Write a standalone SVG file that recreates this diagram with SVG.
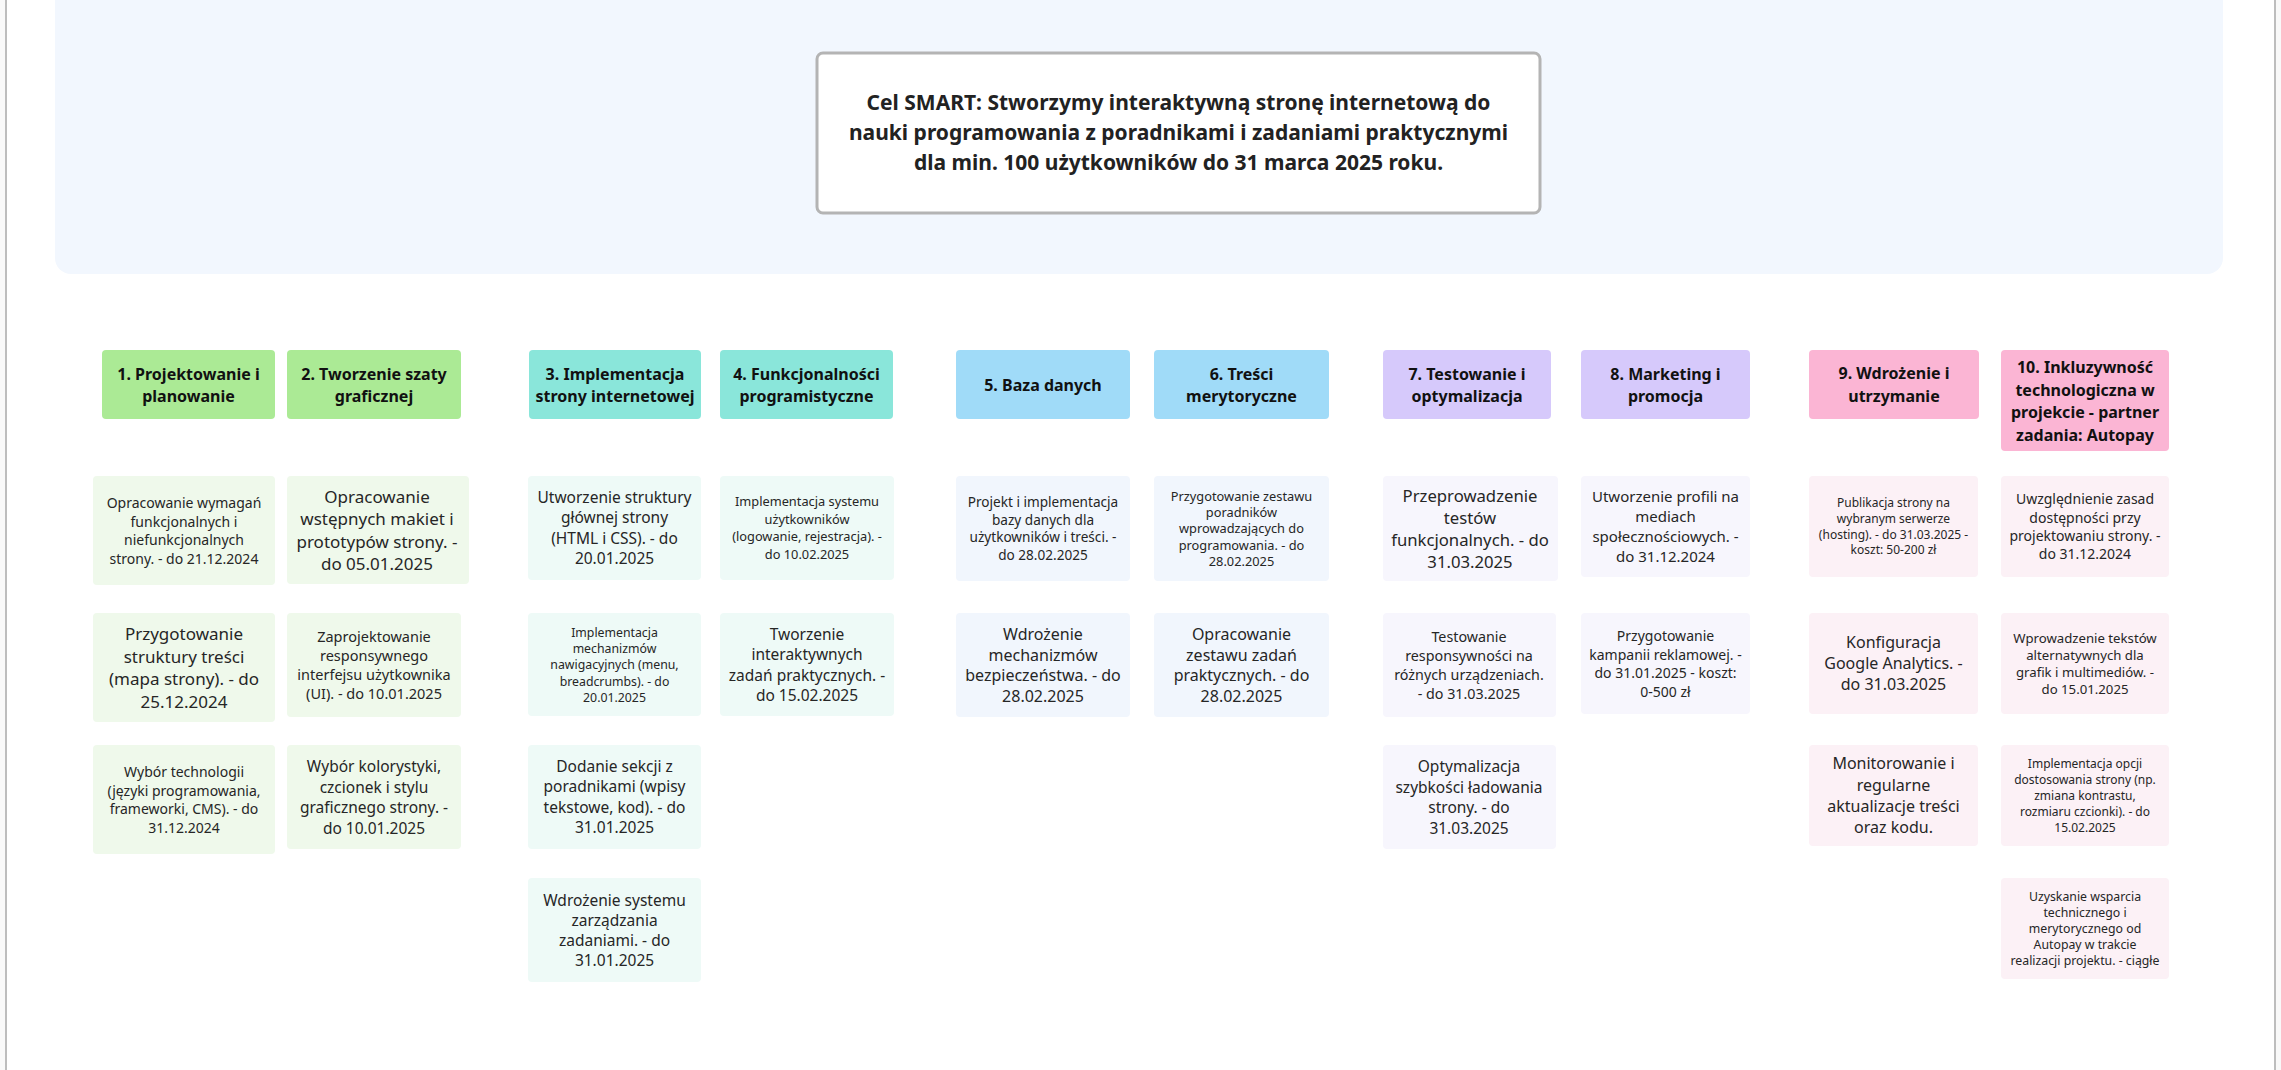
<svg xmlns="http://www.w3.org/2000/svg" width="2281" height="1070" viewBox="0 0 2281 1070">
<style>
text{font-family:"Noto Sans","Liberation Sans",sans-serif;text-anchor:middle;fill:#262626}
.h{font-weight:700;font-size:16px;fill:#111}
.goal{font-weight:700;font-size:21px;fill:#222}
.hg{fill:#abea95}.cg{fill:#eff9eb}
.ht{fill:#8ae6da}.ct{fill:#eefaf7}
.hb{fill:#a0dbf8}.cb{fill:#f1f6fd}
.hv{fill:#d6c9fb}.cv{fill:#f7f6fd}
.hp{fill:#fbb5d4}.cp{fill:#fcf1f6}
</style>
<rect x="0" y="0" width="2281" height="1070" fill="#f9f9f9"/>
<rect x="6" y="-10" width="2269" height="1090" fill="#ffffff" stroke="#bdbdbd" stroke-width="2"/>
<rect x="55" y="-20" width="2168" height="294" rx="16" fill="#f2f7fe"/>
<g id="goal">
<rect x="817" y="53" width="723" height="160" rx="6" fill="#fff" stroke="#b4b4b4" stroke-width="3"/>
<text class="goal" x="1178.5" y="110">Cel SMART: Stworzymy interaktywną stronę internetową do<tspan x="1178.5" dy="30">nauki programowania z poradnikami i zadaniami praktycznymi</tspan><tspan x="1178.5" dy="30">dla min. 100 użytkowników do 31 marca 2025 roku.</tspan></text>
</g>
<g id="connectors"/>
<g id="h1"><rect class="hg" x="102" y="350" width="173" height="69" rx="4"/><text class="h" x="188.5" y="380">1. Projektowanie i<tspan x="188.5" dy="22">planowanie</tspan></text></g>
<g id="h2"><rect class="hg" x="287" y="350" width="174" height="69" rx="4"/><text class="h" x="374" y="380">2. Tworzenie szaty<tspan x="374" dy="22">graficznej</tspan></text></g>
<g id="h3"><rect class="ht" x="529" y="350" width="172" height="69" rx="4"/><text class="h" x="615" y="380">3. Implementacja<tspan x="615" dy="22">strony internetowej</tspan></text></g>
<g id="h4"><rect class="ht" x="720" y="350" width="173" height="69" rx="4"/><text class="h" x="806.5" y="380">4. Funkcjonalności<tspan x="806.5" dy="22">programistyczne</tspan></text></g>
<g id="h5"><rect class="hb" x="956" y="350" width="174" height="69" rx="4"/><text class="h" x="1043" y="390.5">5. Baza danych</text></g>
<g id="h6"><rect class="hb" x="1154" y="350" width="175" height="69" rx="4"/><text class="h" x="1241.5" y="380">6. Treści<tspan x="1241.5" dy="22">merytoryczne</tspan></text></g>
<g id="h7"><rect class="hv" x="1383" y="350" width="168" height="69" rx="4"/><text class="h" x="1467" y="380">7. Testowanie i<tspan x="1467" dy="22">optymalizacja</tspan></text></g>
<g id="h8"><rect class="hv" x="1581" y="350" width="169" height="69" rx="4"/><text class="h" x="1665.5" y="380">8. Marketing i<tspan x="1665.5" dy="22">promocja</tspan></text></g>
<g id="h9"><rect class="hp" x="1809" y="350" width="170" height="69" rx="4"/><text class="h" x="1894" y="379">9. Wdrożenie i<tspan x="1894" dy="23">utrzymanie</tspan></text></g>
<g id="h10"><rect class="hp" x="2001" y="350" width="168" height="101" rx="4"/><text class="h" x="2085" y="373">10. Inkluzywność<tspan x="2085" dy="22.5">technologiczna w</tspan><tspan x="2085" dy="22.5">projekcie - partner</tspan><tspan x="2085" dy="22.5">zadania: Autopay</tspan></text></g>

<g id="c1-1"><rect class="cg" x="93" y="476" width="182" height="109" rx="4"/><text x="184" y="508" font-size="14">Opracowanie wymagań<tspan x="184" dy="18.5">funkcjonalnych i</tspan><tspan x="184" dy="18.5">niefunkcjonalnych</tspan><tspan x="184" dy="18.5">strony. - do 21.12.2024</tspan></text></g>
<g id="c1-2"><rect class="cg" x="93" y="613" width="182" height="109" rx="4"/><text x="184" y="639.7" font-size="17">Przygotowanie<tspan x="184" dy="22.8">struktury treści</tspan><tspan x="184" dy="22.8">(mapa strony). - do</tspan><tspan x="184" dy="22.8">25.12.2024</tspan></text></g>
<g id="c1-3"><rect class="cg" x="93" y="745" width="182" height="109" rx="4"/><text x="184" y="777" font-size="14">Wybór technologii<tspan x="184" dy="18.6">(języki programowania,</tspan><tspan x="184" dy="18.6">frameworki, CMS). - do</tspan><tspan x="184" dy="18.6">31.12.2024</tspan></text></g>

<g id="c2-1"><rect class="cg" x="287" y="476" width="182" height="108" rx="4"/><text x="377" y="502.8" font-size="17">Opracowanie<tspan x="377" dy="22.5">wstępnych makiet i</tspan><tspan x="377" dy="22.5">prototypów strony. -</tspan><tspan x="377" dy="22.5">do 05.01.2025</tspan></text></g>
<g id="c2-2"><rect class="cg" x="287" y="613" width="174" height="104" rx="4"/><text x="374" y="642.2" font-size="14.5">Zaprojektowanie<tspan x="374" dy="19">responsywnego</tspan><tspan x="374" dy="19">interfejsu użytkownika</tspan><tspan x="374" dy="19">(UI). - do 10.01.2025</tspan></text></g>
<g id="c2-3"><rect class="cg" x="287" y="745" width="174" height="104" rx="4"/><text x="374" y="772.4" font-size="15.5">Wybór kolorystyki,<tspan x="374" dy="20.4">czcionek i stylu</tspan><tspan x="374" dy="20.4">graficznego strony. -</tspan><tspan x="374" dy="20.4">do 10.01.2025</tspan></text></g>

<g id="c3-1"><rect class="ct" x="528" y="476" width="173" height="104" rx="4"/><text x="614.5" y="503.1" font-size="15.5">Utworzenie struktury<tspan x="614.5" dy="20.3">głównej strony</tspan><tspan x="614.5" dy="20.3">(HTML i CSS). - do</tspan><tspan x="614.5" dy="20.3">20.01.2025</tspan></text></g>
<g id="c3-2"><rect class="ct" x="528" y="613" width="173" height="103" rx="4"/><text x="614.5" y="636.6" font-size="12.3">Implementacja<tspan x="614.5" dy="16.3">mechanizmów</tspan><tspan x="614.5" dy="16.3">nawigacyjnych (menu,</tspan><tspan x="614.5" dy="16.3">breadcrumbs). - do</tspan><tspan x="614.5" dy="16.3">20.01.2025</tspan></text></g>
<g id="c3-3"><rect class="ct" x="528" y="745" width="173" height="104" rx="4"/><text x="614.5" y="772.1" font-size="15.5">Dodanie sekcji z<tspan x="614.5" dy="20.3">poradnikami (wpisy</tspan><tspan x="614.5" dy="20.3">tekstowe, kod). - do</tspan><tspan x="614.5" dy="20.3">31.01.2025</tspan></text></g>
<g id="c3-4"><rect class="ct" x="528" y="878" width="173" height="104" rx="4"/><text x="614.5" y="905.5" font-size="15.5">Wdrożenie systemu<tspan x="614.5" dy="20">zarządzania</tspan><tspan x="614.5" dy="20">zadaniami. - do</tspan><tspan x="614.5" dy="20">31.01.2025</tspan></text></g>

<g id="c4-1"><rect class="ct" x="720" y="476" width="174" height="104" rx="4"/><text x="807" y="506.3" font-size="12.8">Implementacja systemu<tspan x="807" dy="17.5">użytkowników</tspan><tspan x="807" dy="17.5">(logowanie, rejestracja). -</tspan><tspan x="807" dy="17.5">do 10.02.2025</tspan></text></g>
<g id="c4-2"><rect class="ct" x="720" y="613" width="174" height="103" rx="4"/><text x="807" y="639.5" font-size="15.5">Tworzenie<tspan x="807" dy="20.5">interaktywnych</tspan><tspan x="807" dy="20.5">zadań praktycznych. -</tspan><tspan x="807" dy="20.5">do 15.02.2025</tspan></text></g>

<g id="c5-1"><rect class="cb" x="956" y="476" width="174" height="105" rx="4"/><text x="1043" y="506.9" font-size="13.6">Projekt i implementacja<tspan x="1043" dy="17.7">bazy danych dla</tspan><tspan x="1043" dy="17.7">użytkowników i treści. -</tspan><tspan x="1043" dy="17.7">do 28.02.2025</tspan></text></g>
<g id="c5-2"><rect class="cb" x="956" y="613" width="174" height="104" rx="4"/><text x="1043" y="639.8" font-size="16">Wdrożenie<tspan x="1043" dy="20.7">mechanizmów</tspan><tspan x="1043" dy="20.7">bezpieczeństwa. - do</tspan><tspan x="1043" dy="20.7">28.02.2025</tspan></text></g>

<g id="c6-1"><rect class="cb" x="1154" y="476" width="175" height="105" rx="4"/><text x="1241.5" y="500.6" font-size="12.8">Przygotowanie zestawu<tspan x="1241.5" dy="16.3">poradników</tspan><tspan x="1241.5" dy="16.3">wprowadzających do</tspan><tspan x="1241.5" dy="16.3">programowania. - do</tspan><tspan x="1241.5" dy="16.3">28.02.2025</tspan></text></g>
<g id="c6-2"><rect class="cb" x="1154" y="613" width="175" height="104" rx="4"/><text x="1241.5" y="639.8" font-size="16">Opracowanie<tspan x="1241.5" dy="20.7">zestawu zadań</tspan><tspan x="1241.5" dy="20.7">praktycznych. - do</tspan><tspan x="1241.5" dy="20.7">28.02.2025</tspan></text></g>

<g id="c7-1"><rect class="cv" x="1383" y="476" width="175" height="105" rx="4"/><text x="1470" y="501.7" font-size="16.7">Przeprowadzenie<tspan x="1470" dy="22">testów</tspan><tspan x="1470" dy="22">funkcjonalnych. - do</tspan><tspan x="1470" dy="22">31.03.2025</tspan></text></g>
<g id="c7-2"><rect class="cv" x="1383" y="613" width="173" height="104" rx="4"/><text x="1469" y="642.1" font-size="14.3">Testowanie<tspan x="1469" dy="19">responsywności na</tspan><tspan x="1469" dy="19">różnych urządzeniach.</tspan><tspan x="1469" dy="19">- do 31.03.2025</tspan></text></g>
<g id="c7-3"><rect class="cv" x="1383" y="745" width="173" height="104" rx="4"/><text x="1469" y="772.4" font-size="15.5">Optymalizacja<tspan x="1469" dy="20.4">szybkości ładowania</tspan><tspan x="1469" dy="20.4">strony. - do</tspan><tspan x="1469" dy="20.4">31.03.2025</tspan></text></g>

<g id="c8-1"><rect class="cv" x="1581" y="476" width="169" height="101" rx="4"/><text x="1665.5" y="502.1" font-size="15">Utworzenie profili na<tspan x="1665.5" dy="19.8">mediach</tspan><tspan x="1665.5" dy="19.8">społecznościowych. -</tspan><tspan x="1665.5" dy="19.8">do 31.12.2024</tspan></text></g>
<g id="c8-2"><rect class="cv" x="1581" y="613" width="169" height="101" rx="4"/><text x="1665.5" y="641" font-size="14">Przygotowanie<tspan x="1665.5" dy="18.6">kampanii reklamowej. -</tspan><tspan x="1665.5" dy="18.6">do 31.01.2025 - koszt:</tspan><tspan x="1665.5" dy="18.6">0-500 zł</tspan></text></g>

<g id="c9-1"><rect class="cp" x="1809" y="476" width="169" height="101" rx="4"/><text x="1893.5" y="506.9" font-size="12">Publikacja strony na<tspan x="1893.5" dy="15.8">wybranym serwerze</tspan><tspan x="1893.5" dy="15.8">(hosting). - do 31.03.2025 -</tspan><tspan x="1893.5" dy="15.8">koszt: 50-200 zł</tspan></text></g>
<g id="c9-2"><rect class="cp" x="1809" y="613" width="169" height="101" rx="4"/><text x="1893.5" y="648.1" font-size="16">Konfiguracja<tspan x="1893.5" dy="21">Google Analytics. -</tspan><tspan x="1893.5" dy="21">do 31.03.2025</tspan></text></g>
<g id="c9-3"><rect class="cp" x="1809" y="745" width="169" height="101" rx="4"/><text x="1893.5" y="769.3" font-size="16">Monitorowanie i<tspan x="1893.5" dy="21.3">regularne</tspan><tspan x="1893.5" dy="21.3">aktualizacje treści</tspan><tspan x="1893.5" dy="21.3">oraz kodu.</tspan></text></g>

<g id="c10-1"><rect class="cp" x="2001" y="476" width="168" height="101" rx="4"/><text x="2085" y="504.2" font-size="14">Uwzględnienie zasad<tspan x="2085" dy="18.4">dostępności przy</tspan><tspan x="2085" dy="18.4">projektowaniu strony. -</tspan><tspan x="2085" dy="18.4">do 31.12.2024</tspan></text></g>
<g id="c10-2"><rect class="cp" x="2001" y="613" width="168" height="101" rx="4"/><text x="2085" y="642.5" font-size="13.2">Wprowadzenie tekstów<tspan x="2085" dy="17.2">alternatywnych dla</tspan><tspan x="2085" dy="17.2">grafik i multimediów. -</tspan><tspan x="2085" dy="17.2">do 15.01.2025</tspan></text></g>
<g id="c10-3"><rect class="cp" x="2001" y="745" width="168" height="101" rx="4"/><text x="2085" y="767.8" font-size="12">Implementacja opcji<tspan x="2085" dy="16">dostosowania strony (np.</tspan><tspan x="2085" dy="16">zmiana kontrastu,</tspan><tspan x="2085" dy="16">rozmiaru czcionki). - do</tspan><tspan x="2085" dy="16">15.02.2025</tspan></text></g>
<g id="c10-4"><rect class="cp" x="2001" y="878" width="168" height="101" rx="4"/><text x="2085" y="900.9" font-size="12.3">Uzyskanie wsparcia<tspan x="2085" dy="16">technicznego i</tspan><tspan x="2085" dy="16">merytorycznego od</tspan><tspan x="2085" dy="16">Autopay w trakcie</tspan><tspan x="2085" dy="16">realizacji projektu. - ciągłe</tspan></text></g>
</svg>
